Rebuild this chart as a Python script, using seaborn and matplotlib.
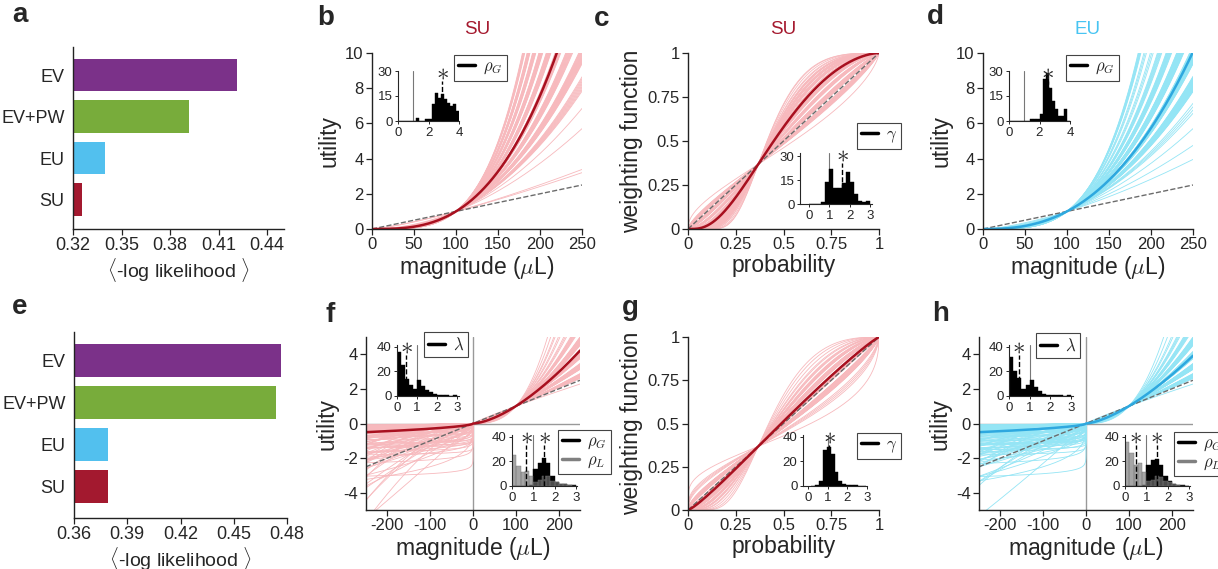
import numpy as np
import pandas as pd
import seaborn as sns
import matplotlib.pyplot as plt
from matplotlib.lines import Line2D

sns.set_style("ticks")
plt.rcParams['font.family'] = ['Liberation Sans', 'DejaVu Sans']
plt.rcParams['mathtext.fontset'] = 'cm'
plt.rcParams['axes.unicode_minus'] = False

W, H = 1218, 569

# ---- model comparison (panels a, e) ----
models = ["EV", "EV+PW", "EU", "SU"]
model_colors = ["#7B3189", "#78AC3B", "#52C0EE", "#A3192F"]
nll_gains = [0.4214, 0.3918, 0.3400, 0.3258]
nll_mixed = [0.4766, 0.4740, 0.3790, 0.3790]

# ---- parameter histograms, counts per 0.2-wide bin ----
su_rho_counts = [0, 0, 0, 0, 0, 0, 2, 0, 0, 1, 1, 10, 17, 14, 16, 13, 11, 9, 10, 6]   # from 0
eu_rho_counts = [0, 0, 0, 0, 0, 0, 0, 1, 1, 1, 4, 25, 29, 20, 12, 7, 3, 3, 7, 0]      # from 0
su_gamma_counts = [0, 0, 0, 1, 14, 22, 10, 10, 13, 20, 14, 6, 2, 1, 2]                # from 0
mix_gamma_counts = [0, 1, 4, 29, 32, 26, 11, 4, 2, 1, 1, 1, 0, 0]                     # from 0.15
su_lam_counts = [36, 25, 14, 9, 6, 13, 8, 5, 3, 2, 1, 1, 1, 0, 1]                     # from 0
su_rhol_counts = [25, 16, 11, 12, 8, 3, 5, 8, 8, 4, 3, 2, 2, 1, 0]
su_rhog_counts = [0, 0, 0, 0, 1, 14, 19, 23, 19, 8, 3, 2, 2, 1, 1]
eu_lam_counts = [32, 20, 15, 6, 9, 13, 7, 4, 2, 1, 1, 1, 1, 0, 1]
eu_rhol_counts = [36, 27, 17, 19, 11, 4, 5, 8, 7, 4, 3, 2, 1, 0, 0]
eu_rhog_counts = [0, 0, 0, 0, 1, 17, 21, 22, 17, 8, 4, 2, 1, 1, 0]

# ---- population fit curves (dark lines) ----
su_fit_rho = 2.92
eu_fit_rho = 2.52
su_fit_gamma = 1.65
mix_fit_gamma = 1.1
su_mix_fit = (1.57, 0.56, 0.30)   # rho_G, rho_L, lambda
eu_mix_fit = (1.49, 0.56, 0.30)

su_dark, su_light, su_title = "#A8101F", "#F7B9BD", "#A5192E"
eu_dark, eu_light, eu_title = "#2EA8DF", "#94E5F5", "#48C4F2"
ref_grey = "#6b6b6b"
family_lw = 0.6

fig = plt.figure(figsize=(W / 100, H / 100), dpi=100)


def px_rect(l, t, r, b):
    return [l / W, 1 - b / H, (r - l) / W, (b - t) / H]


def members(counts, lo, width=0.2):
    # place each bin's subjects inside the central part of the bin
    vals = []
    for k, c in enumerate(counts):
        if c:
            vals.extend(lo + k * width + width * (0.2 + 0.6 * (np.arange(c) + 0.5) / c))
    return np.array(vals)


def power_utility(x, rho):
    return (np.abs(x) / 100.0) ** rho


def prelec(p, g):
    with np.errstate(divide='ignore'):
        return np.exp(-(-np.log(p)) ** g)


def loss_utility(x, lam, rho_l):
    return -lam * (np.abs(x) / 100.0) ** rho_l


def mixed_utility(x, rho_g, rho_l, lam):
    return np.where(x >= 0, power_utility(x, rho_g), loss_utility(x, lam, rho_l))


def loss_pairs(lam, rho_l):
    # larger loss aversion loosely goes with smaller loss curvature
    n = min(len(lam), len(rho_l))
    pick = lambda v: v[np.round(np.linspace(0, len(v) - 1, n)).astype(int)]
    lam_n, rl_n = pick(lam), pick(rho_l)
    i = np.arange(n)
    order = np.argsort(np.argsort((n - 1 - i) + 2.0 * n * ((i * 0.618034) % 1.0)))
    return list(zip(lam_n, rl_n[order]))


def style_main(ax, size=12):
    sns.despine(ax=ax)
    for s in ['left', 'bottom']:
        ax.spines[s].set_linewidth(1.0)
        ax.spines[s].set_color('#222222')
    ax.tick_params(direction='out', length=4, width=0.9, labelsize=size, pad=2, color='#222222')


def draw_family(ax, x, params, fn, color):
    df = pd.concat([pd.DataFrame({'x': x, 'y': fn(x, *p), 'unit': i})
                    for i, p in enumerate(params)], ignore_index=True)
    sns.lineplot(data=df, x='x', y='y', units='unit', estimator=None, color=color,
                 lw=family_lw, ax=ax, legend=False, sort=False)


def key(ax, labels, colors, l, t, size=12):
    handles = [Line2D([], [], color=c, lw=2.5) for c in colors]
    leg = ax.legend(handles, labels, loc='upper left', bbox_to_anchor=(l / W, 1 - t / H),
                    bbox_transform=fig.transFigure, frameon=True, fancybox=False,
                    edgecolor='#444444', framealpha=1, fontsize=size, handlelength=1.0,
                    handletextpad=0.5, borderpad=0.25, borderaxespad=0, labelspacing=0.1)
    leg.get_frame().set_linewidth(0.8)


def inset_hist(rect, series, edges, xlim, ylim, xticks, yticks):
    ax = fig.add_axes(px_rect(*rect))
    ax.set_facecolor('none')
    ax.axvline(1, color='#777777', lw=0.8, zorder=0.5)
    for vals, col, alpha in series:
        sns.histplot(x=vals, bins=edges, color=col, alpha=alpha, edgecolor=col,
                     linewidth=0.3, ax=ax)
    for vals, _, _ in series:
        m = np.median(vals)
        ax.plot([m, m], [0, 0.8 * ylim[1]], color='black', ls='--', lw=1, zorder=3)
        ax.text(m, 0.97 * ylim[1], r'$\ast$', ha='center', va='center', fontsize=18,
                zorder=4, clip_on=False)
    ax.set(xlim=xlim, ylim=ylim, xticks=xticks, yticks=yticks, xlabel='', ylabel='')
    sns.despine(ax=ax)
    for s in ['left', 'bottom']:
        ax.spines[s].set_linewidth(0.8)
    ax.tick_params(length=2.5, width=0.7, labelsize=9.5, pad=1.5)
    return ax


def bar_panel(rect, values, xticks, xmax, ylim):
    ax = fig.add_axes(px_rect(*rect))
    sns.barplot(x=values, y=models, hue=models, palette=model_colors, saturation=1,
                orient='h', width=0.78, legend=False, ax=ax, linewidth=0)
    ax.set_xlim(xticks[0], xmax)
    ax.set_ylim(*ylim)
    ax.set_xticks(xticks)
    ax.set_xticklabels([f"{t:.2f}" for t in xticks])
    style_main(ax, size=13)
    ax.tick_params(axis='y', length=0, pad=6)
    ax.set_ylabel('')
    ax.set_xlabel(r'$\langle$-log likelihood $\rangle$', fontsize=14, labelpad=1)
    return ax


# ---- panels a, e ----
bar_panel((73, 47, 284, 229), nll_gains, [0.32, 0.35, 0.38, 0.41, 0.44], 0.4505, (3.71, -0.675))
bar_panel((74, 332, 287, 518), nll_mixed, [0.36, 0.39, 0.42, 0.45, 0.48], 0.48, (3.74, -0.68))

x_gain = np.linspace(0, 250, 251)
p_grid = np.linspace(0, 1, 301)
x_mag = np.concatenate([[0.0], np.geomspace(0.02, 250, 260)])
x_loss = -x_mag[::-1]
x_mix = np.concatenate([x_loss, x_mag[1:]])
prob_ticks = [0, 0.25, 0.5, 0.75, 1]
prob_labels = ['0', '0.25', '0.5', '0.75', '1']


def gain_panel(rect, counts, fit_rho, light, dark, title, tcolor, inset_rect, leg_pos):
    ax = fig.add_axes(px_rect(*rect))
    rho = members(counts, 0.0)
    draw_family(ax, x_gain, [(r,) for r in rho], power_utility, light)
    sns.lineplot(x=x_gain, y=x_gain / 100, color=ref_grey, lw=1, linestyle='--', ax=ax)
    sns.lineplot(x=x_gain, y=power_utility(x_gain, fit_rho), color=dark, lw=1.8, ax=ax)
    ax.set(xlim=(0, 250), ylim=(0, 10), xticks=[0, 50, 100, 150, 200, 250],
           yticks=[0, 2, 4, 6, 8, 10])
    style_main(ax)
    ax.set_xlabel(r'magnitude ($\mu$L)', fontsize=16.5, labelpad=1)
    ax.set_ylabel('utility', fontsize=16.5, labelpad=3)
    ax.set_title(title, color=tcolor, fontsize=13.5, pad=14)
    ins = inset_hist(inset_rect, [(rho, 'black', 1)], np.arange(0, 4.01, 0.2),
                     (0, 4), (0, 30), [0, 2, 4], [0, 15, 30])
    key(ins, [r'$\rho_G$'], ['black'], *leg_pos)


def weight_panel(rect, counts, lo, fit_gamma, title, inset_rect, xlim_in, ylim_in, yt_in, leg_pos):
    ax = fig.add_axes(px_rect(*rect))
    gam = members(counts, lo)
    draw_family(ax, p_grid, [(g,) for g in gam], prelec, su_light)
    sns.lineplot(x=p_grid, y=p_grid, color=ref_grey, lw=1, linestyle='--', ax=ax)
    sns.lineplot(x=p_grid, y=prelec(p_grid, fit_gamma), color=su_dark, lw=1.8, ax=ax)
    ax.set(xlim=(0, 1), ylim=(0, 1))
    ax.set_xticks(prob_ticks)
    ax.set_xticklabels(prob_labels)
    ax.set_yticks(prob_ticks)
    ax.set_yticklabels(prob_labels)
    style_main(ax)
    ax.set_xlabel('probability', fontsize=16.5, labelpad=1)
    ax.set_ylabel('weighting function', fontsize=16.5, labelpad=3)
    if title:
        ax.set_title(title, color=su_title, fontsize=13.5, pad=14)
    edges = lo + 0.2 * np.arange(len(counts) + 1)
    ins = inset_hist(inset_rect, [(gam, 'black', 1)], edges, xlim_in, ylim_in, [0, 1, 2, 3], yt_in)
    key(ins, [r'$\gamma$'], ['black'], *leg_pos)


def mixed_panel(rect, lam_c, rl_c, rg_c, fit, light, dark, lam_rect, lam_leg, rho_rect, rho_leg):
    ax = fig.add_axes(px_rect(*rect))
    ax.axhline(0, color='#999999', lw=1, zorder=1)
    ax.axvline(0, color='#999999', lw=1, zorder=1)
    lam = members(lam_c, 0.0)
    rho_l = members(rl_c, 0.0)
    rho_g = members(rg_c, 0.0)
    draw_family(ax, x_mag, [(r,) for r in rho_g], power_utility, light)
    draw_family(ax, x_loss, loss_pairs(lam, rho_l), loss_utility, light)
    sns.lineplot(x=x_mix, y=x_mix / 100, color=ref_grey, lw=1, linestyle='--', ax=ax)
    sns.lineplot(x=x_mix, y=mixed_utility(x_mix, *fit), color=dark, lw=1.8, ax=ax)
    ax.set(xlim=(-250, 250), ylim=(-5, 5), xticks=[-200, -100, 0, 100, 200],
           yticks=[-4, -2, 0, 2, 4])
    style_main(ax)
    ax.set_xlabel(r'magnitude ($\mu$L)', fontsize=16.5, labelpad=1)
    ax.set_ylabel('utility', fontsize=16.5, labelpad=3)
    edges = np.arange(0, 3.01, 0.2)
    ins = inset_hist(lam_rect, [(lam, 'black', 1)], edges, (0, 3.1), (0, 41.5),
                     [0, 1, 2, 3], [0, 20, 40])
    key(ins, [r'$\lambda$'], ['black'], *lam_leg)
    ins = inset_hist(rho_rect, [(rho_g, 'black', 1), (rho_l, '#757575', 0.65)], edges,
                     (0, 3.05), (0, 41.5), [0, 1, 2, 3], [0, 20, 40])
    key(ins, [r'$\rho_G$', r'$\rho_L$'], ['black', '#808080'], *rho_leg)


gain_panel((372, 53, 582, 229), su_rho_counts, su_fit_rho, su_light, su_dark, 'SU', su_title,
           (398, 71, 459, 121), (454, 55))
gain_panel((983, 53, 1193, 229), eu_rho_counts, eu_fit_rho, eu_light, eu_dark, 'EU', eu_title,
           (1009, 71, 1070, 121), (1066, 55))
weight_panel((688, 53, 879, 229), su_gamma_counts, 0.0, su_fit_gamma, 'SU',
             (800, 153, 872, 204), (-0.45, 3.1), (0, 32), [0, 15, 30], (857, 123))
weight_panel((688, 337, 879, 510), mix_gamma_counts, 0.15, mix_fit_gamma, None,
             (803, 435, 867, 486), (-0.25, 3.0), (0, 41.5), [0, 20, 40], (857, 433))
mixed_panel((366, 337, 580, 510), su_lam_counts, su_rhol_counts, su_rhog_counts, su_mix_fit,
            su_light, su_dark, (397, 345, 459, 396), (424, 332), (512, 435, 577, 486), (558, 430))
mixed_panel((979, 337, 1193, 510), eu_lam_counts, eu_rhol_counts, eu_rhog_counts, eu_mix_fit,
            eu_light, eu_dark, (1009, 345, 1073, 396), (1036, 333), (1125, 435, 1190, 486), (1174, 432))

# panel letters
for letter, (lx, ly) in {'a': (12, 22), 'b': (317, 25), 'c': (594, 26), 'd': (927, 24),
                         'e': (12, 314), 'f': (325, 322), 'g': (622, 315), 'h': (932, 321)}.items():
    fig.text(lx / W, 1 - ly / H, letter, fontsize=20, fontweight='bold', ha='left', va='baseline')

fig.savefig('out.png', dpi=100)
